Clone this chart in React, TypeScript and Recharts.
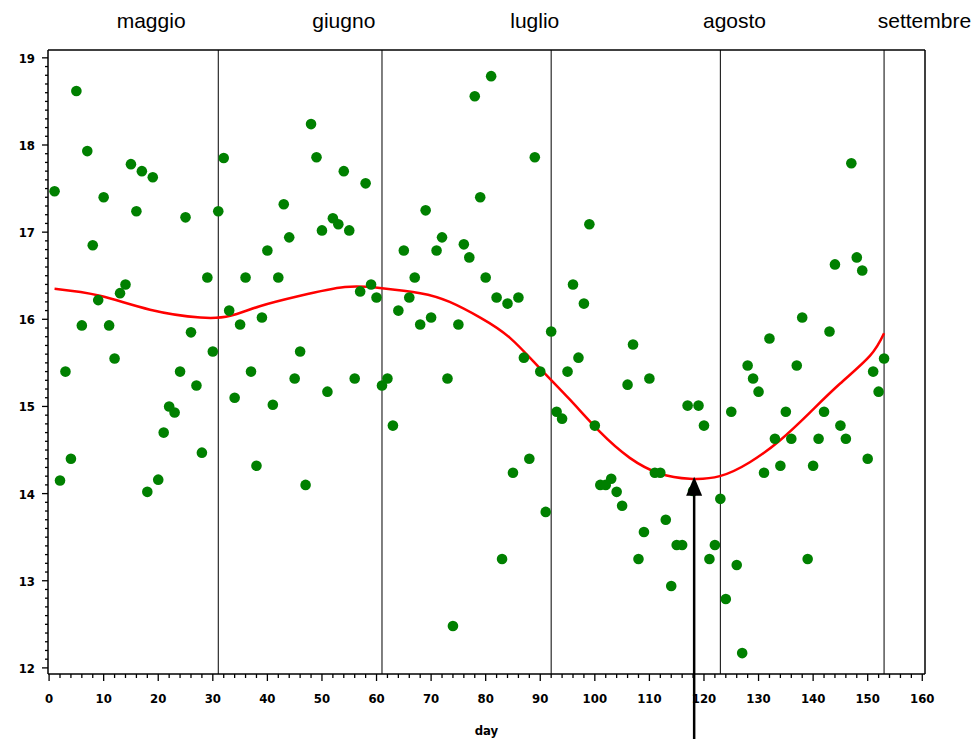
import React from "react";
import {
  ComposedChart,
  Scatter,
  Line,
  XAxis,
  YAxis,
  ReferenceLine,
  ReferenceDot,
} from "recharts";

// daily temperatures, day 1 = 1 May
const temps = [
  17.47, 14.15, 15.4, 14.4, 18.62, 15.93, 17.93, 16.85, 16.22, 17.4,
  15.93, 15.55, 16.3, 16.4, 17.78, 17.24, 17.7, 14.02, 17.63, 14.16,
  14.7, 15.0, 14.93, 15.4, 17.17, 15.85, 15.24, 14.47, 16.48, 15.63,
  17.24, 17.85, 16.1, 15.1, 15.94, 16.48, 15.4, 14.32, 16.02, 16.79,
  15.02, 16.48, 17.32, 16.94, 15.32, 15.63, 14.1, 18.24, 17.86, 17.02,
  15.17, 17.16, 17.09, 17.7, 17.02, 15.32, 16.32, 17.56, 16.4, 16.25,
  15.24, 15.32, 14.78, 16.1, 16.79, 16.25, 16.48, 15.94, 17.25, 16.02,
  16.79, 16.94, 15.32, 12.48, 15.94, 16.86, 16.71, 18.56, 17.4, 16.48,
  18.79, 16.25, 13.25, 16.18, 14.24, 16.25, 15.56, 14.4, 17.86, 15.4,
  13.79, 15.86, 14.94, 14.86, 15.4, 16.4, 15.56, 16.18, 17.09, 14.78,
  14.1, 14.1, 14.17, 14.02, 13.86, 15.25, 15.71, 13.25, 13.56, 15.32,
  14.24, 14.24, 13.7, 12.94, 13.41, 13.41, 15.01, 14.03, 15.01, 14.78,
  13.25, 13.41, 13.94, 12.79, 14.94, 13.18, 12.17, 15.47, 15.32, 15.17,
  14.24, 15.78, 14.63, 14.32, 14.94, 14.63, 15.47, 16.02, 13.25, 14.32,
  14.63, 14.94, 15.86, 16.63, 14.78, 14.63, 17.79, 16.71, 16.56, 14.4,
  15.4, 15.17, 15.55,
];

// smoothed fit (read at a few days)
const curveDays = [1, 9.3, 18.5, 27.7, 33.2, 38.6, 46, 54.2, 60.6, 68, 73.4, 79, 84.4, 89.9, 95.4, 100.9, 106.4, 111.9, 117.4, 122.9, 128.4, 133.9, 139.4, 144.9, 150.4, 153];
const curveValues = [16.35, 16.27, 16.11, 16.02, 16.04, 16.15, 16.27, 16.37, 16.36, 16.3, 16.2, 16.02, 15.79, 15.44, 15.08, 14.71, 14.41, 14.23, 14.17, 14.2, 14.36, 14.61, 14.93, 15.26, 15.58, 15.84];

// first day of each month (vertical lines)
const monthStarts = [31, 61, 92, 123, 153];
const monthNames = ["maggio", "giugno", "luglio", "agosto", "settembre"];
const monthLabelDays = [18.7, 54, 89, 125.6, 160.4];

const arrowDay = 118.2;
const arrowValue = 14.17;

const xMajor = [0, 10, 20, 30, 40, 50, 60, 70, 80, 90, 100, 110, 120, 130, 140, 150, 160];
const yMajor = [12, 13, 14, 15, 16, 17, 18, 19];

const W = 975;
const H = 739;

const points = temps.map((t, i) => ({ day: i + 1, temp: t }));
const curve = curveDays.map((d, i) => ({ day: d, temp: curveValues[i] }));

const xTicks: number[] = [];
for (let d = xMajor[0]; d <= xMajor[xMajor.length - 1]; d += 2) xTicks.push(d);
const yTicks: number[] = [];
for (let i = 0; i <= (yMajor[yMajor.length - 1] - yMajor[0]) * 10; i++)
  yTicks.push(yMajor[0] + i / 10);

const tickFont = "'Liberation Sans Narrow', 'DejaVu Sans Condensed', sans-serif";
const labelFont = "'Liberation Sans', Arial, sans-serif";

const XTick = (props: any) => {
  const { x, y, payload } = props;
  const v = payload.value;
  const major = xMajor.includes(v);
  return (
    <g>
      <line x1={x} x2={x} y1={y} y2={y + (major ? 7 : 4)} stroke="#000" strokeWidth={1.3} />
      {major && (
        <text x={x} y={y + 29} textAnchor="middle" fontFamily={tickFont} fontWeight="bold" fontSize={13} fill="#000">
          {v}
        </text>
      )}
    </g>
  );
};

const YTick = (props: any) => {
  const { x, y, payload } = props;
  const v = payload.value;
  const major = Math.abs(v - Math.round(v)) < 1e-6;
  return (
    <g>
      <line x1={x} x2={x - (major ? 6 : 3)} y1={y} y2={y} stroke="#000" strokeWidth={1.3} />
      {major && (
        <text x={x - 13} y={y + 5} textAnchor="end" fontFamily={tickFont} fontWeight="bold" fontSize={13} fill="#000">
          {Math.round(v)}
        </text>
      )}
    </g>
  );
};

const MonthTick = (props: any) => {
  const { x, y, payload } = props;
  const idx = monthLabelDays.indexOf(payload.value);
  return (
    <text x={x} y={y - 22} textAnchor="middle" fontFamily={labelFont} fontSize={21} fill="#000">
      {monthNames[idx]}
    </text>
  );
};

const Arrow = (props: any) => {
  const { cx, cy } = props;
  return (
    <g>
      <line x1={cx} x2={cx} y1={cy + 16} y2={H} stroke="#000" strokeWidth={2.5} />
      <path d={`M${cx},${cy - 2} L${cx - 8},${cy + 17} L${cx + 8},${cy + 17} Z`} fill="#000" />
    </g>
  );
};

const Dot = (props: any) => (
  <circle cx={props.cx} cy={props.cy} r={5.3} fill="#008000" />
);

export default function App() {
  return (
    <div style={{ width: W, height: H }}>
      <style>{"body{margin:0;overflow:hidden}"}</style>
      <ComposedChart width={W} height={H} margin={{ top: 0, right: 49, bottom: 0, left: 0 }}>
        <XAxis
          xAxisId="top"
          orientation="top"
          type="number"
          dataKey="day"
          domain={[-0.2, 160.5]}
          allowDataOverflow
          ticks={monthLabelDays}
          interval={0}
          tick={<MonthTick />}
          tickLine={false}
          tickSize={0}
          tickMargin={0}
          height={50}
          axisLine={{ stroke: "#000", strokeWidth: 1.5 }}
        />
        <XAxis
          type="number"
          dataKey="day"
          domain={[-0.2, 160.5]}
          allowDataOverflow
          ticks={xTicks}
          interval={0}
          tick={<XTick />}
          tickLine={false}
          tickSize={0}
          tickMargin={0}
          height={65}
          axisLine={{ stroke: "#000", strokeWidth: 1.5 }}
          label={{ value: "day", position: "insideBottom", offset: 4, fontFamily: tickFont, fontWeight: "bold", fontSize: 13, fill: "#000" }}
        />
        <YAxis
          type="number"
          dataKey="temp"
          domain={[11.93, 19.09]}
          allowDataOverflow
          ticks={yTicks}
          interval={0}
          tick={<YTick />}
          tickLine={false}
          tickSize={0}
          tickMargin={0}
          width={48}
          axisLine={{ stroke: "#000", strokeWidth: 1.5 }}
        />
        <YAxis
          yAxisId="r"
          orientation="right"
          type="number"
          domain={[11.93, 19.09]}
          tick={false}
          tickLine={false}
          width={1}
          axisLine={{ stroke: "#000", strokeWidth: 1.5 }}
        />
        {monthStarts.map((d) => (
          <ReferenceLine key={d} x={d} stroke="#000" strokeWidth={1} />
        ))}
        <Scatter data={points} dataKey="temp" shape={<Dot />} isAnimationActive={false} />
        <Line
          data={curve}
          dataKey="temp"
          type="natural"
          stroke="#ff0000"
          strokeWidth={2.5}
          dot={false}
          activeDot={false}
          isAnimationActive={false}
        />
        <ReferenceDot x={arrowDay} y={arrowValue} ifOverflow="visible" shape={<Arrow />} />
      </ComposedChart>
    </div>
  );
}
